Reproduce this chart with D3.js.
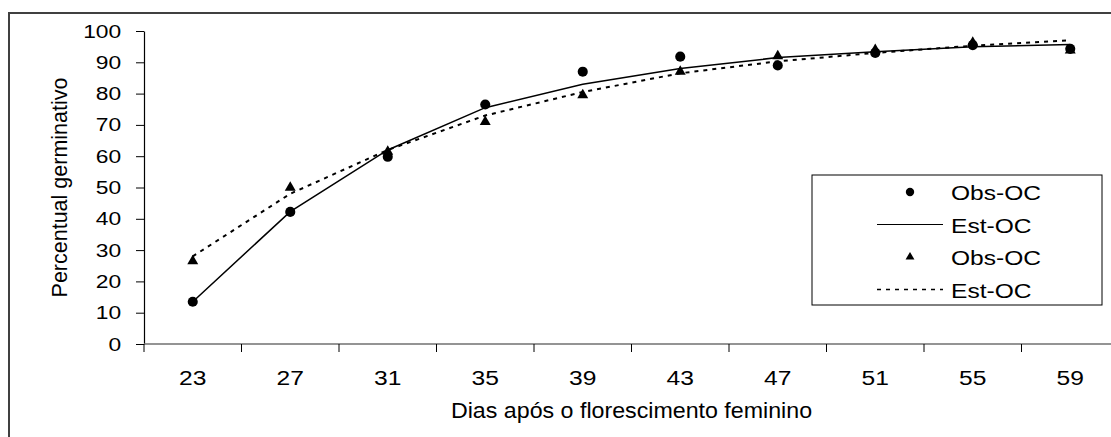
<!DOCTYPE html>
<html>
<head>
<meta charset="utf-8">
<script src="https://cdn.jsdelivr.net/npm/d3@7.9.0/dist/d3.min.js"></script>
<style>
  body { margin: 0; background: #fff; }
  svg { display: block; font-family: "Liberation Sans", Arial, sans-serif; }
</style>
</head>
<body>
<svg id="chart" width="1111" height="437"></svg>
<script>
const days = [23, 27, 31, 35, 39, 43, 47, 51, 55, 59];
const obs1 = [13.5, 42.2, 59.8, 76.5, 87, 91.8, 89, 93, 95.5, 94.3];
const est1 = [13.5, 42.3, 62, 75.5, 83, 88, 91.5, 93.4, 95, 95.7];
const obs2 = [26.5, 50, 61.5, 71, 79.5, 87, 92, 94, 96.3, 93.8];
const est2 = [28, 48, 62, 73, 80.5, 86.5, 90.3, 93, 95.3, 97];
const yTicks = [0, 10, 20, 30, 40, 50, 60, 70, 80, 90, 100];
const legendItems = [
  { label: 'Obs-OC', type: 'circle' },
  { label: 'Est-OC', type: 'solid' },
  { label: 'Obs-OC', type: 'triangle' },
  { label: 'Est-OC', type: 'dotted' }
];

const svg = d3.select('#chart');

// outer frame (runs off the right and bottom edges)
svg.append('rect')
  .attr('x', 9).attr('y', 13)
  .attr('width', 1300).attr('height', 600)
  .attr('fill', 'none').attr('stroke', '#404040').attr('stroke-width', 2);

let x = d3.scaleBand().domain(days).range([144, 1119]).padding(0);
let y = d3.scaleLinear().domain([0, 100]).range([344, 31]);

// y axis
let yAxis = svg.append('g')
  .attr('transform', 'translate(144,0)')
  .call(d3.axisLeft(y).tickValues(yTicks).tickSize(8).tickSizeOuter(0).tickPadding(11));
yAxis.select('.domain').attr('stroke', '#000').attr('stroke-width', 1.2);
yAxis.selectAll('.tick line').attr('stroke', '#000');
yAxis.selectAll('.tick text')
  .attr('font-size', 19).attr('fill', '#000')
  .attr('transform', 'scale(1.2,1)');

// x axis: line, boundary ticks, centred labels
let xAxis = svg.append('g');
xAxis.append('line')
  .attr('x1', x.range()[0]).attr('x2', x.range()[1])
  .attr('y1', y(0)).attr('y2', y(0))
  .attr('stroke', '#707070').attr('stroke-width', 1.5);
let bounds = days.map(d => x(d)).concat([x(days[days.length - 1]) + x.bandwidth()]);
xAxis.selectAll('line.tk')
  .data(bounds)
  .join('line')
  .attr('class', 'tk')
  .attr('x1', d => d).attr('x2', d => d)
  .attr('y1', y(0)).attr('y2', y(0) + 8)
  .attr('stroke', '#000');
xAxis.selectAll('text')
  .data(days)
  .join('text')
  .attr('transform', d => `translate(${x(d) + x.bandwidth() / 2},385) scale(1.2,1)`)
  .attr('text-anchor', 'middle')
  .attr('font-size', 20.5)
  .text(d => d);

// axis titles
svg.append('text')
  .attr('transform', `translate(${(x.range()[0] + x.range()[1]) / 2},418) scale(1.08,1)`)
  .attr('text-anchor', 'middle')
  .attr('font-size', 21.5)
  .text('Dias após o florescimento feminino');

svg.append('text')
  .attr('transform', `translate(67,${(y(0) + y(100)) / 2}) rotate(-90)`)
  .attr('text-anchor', 'middle')
  .attr('font-size', 21.5)
  .text('Percentual germinativo');

// lines
let lineGen = d3.line()
  .x((d, i) => x(days[i]) + x.bandwidth() / 2)
  .y(d => y(d));

svg.append('path')
  .attr('d', lineGen(est2))
  .attr('fill', 'none').attr('stroke', '#000').attr('stroke-width', 2)
  .attr('stroke-dasharray', '4,5');

svg.append('path')
  .attr('d', lineGen(est1))
  .attr('fill', 'none').attr('stroke', '#000').attr('stroke-width', 1.5);

// markers
let circleSym = d3.symbol().type(d3.symbolCircle).size(80);
let triSym = d3.symbol().type(d3.symbolTriangle).size(52);

svg.append('g').selectAll('path')
  .data(obs1)
  .join('path')
  .attr('d', circleSym)
  .attr('transform', (d, i) => `translate(${x(days[i]) + x.bandwidth() / 2},${y(d)})`)
  .attr('fill', '#000');

svg.append('g').selectAll('path')
  .data(obs2)
  .join('path')
  .attr('d', triSym)
  .attr('transform', (d, i) => `translate(${x(days[i]) + x.bandwidth() / 2},${y(d)})`)
  .attr('fill', '#000');

// legend
let legend = svg.append('g');
legend.append('rect')
  .attr('x', 812).attr('y', 175)
  .attr('width', 290).attr('height', 130)
  .attr('fill', '#fff').attr('stroke', '#000').attr('stroke-width', 1);

legendItems.forEach((item, i) => {
  let cy = 192 + i * 32.5;
  if (item.type === 'circle') {
    legend.append('path').attr('d', d3.symbol().type(d3.symbolCircle).size(55))
      .attr('transform', `translate(910,${cy})`).attr('fill', '#000');
  } else if (item.type === 'triangle') {
    legend.append('path').attr('d', d3.symbol().type(d3.symbolTriangle).size(34))
      .attr('transform', `translate(910,${cy})`).attr('fill', '#000');
  } else {
    legend.append('line')
      .attr('x1', 877).attr('x2', 943).attr('y1', cy).attr('y2', cy)
      .attr('stroke', '#000')
      .attr('stroke-width', item.type === 'dotted' ? 1.5 : 1.2)
      .attr('stroke-dasharray', item.type === 'dotted' ? '4,5' : null);
  }
  legend.append('text')
    .attr('transform', `translate(951,${cy + 8}) scale(1.17,1)`)
    .attr('font-size', 21)
    .text(item.label);
});
</script>
</body>
</html>
